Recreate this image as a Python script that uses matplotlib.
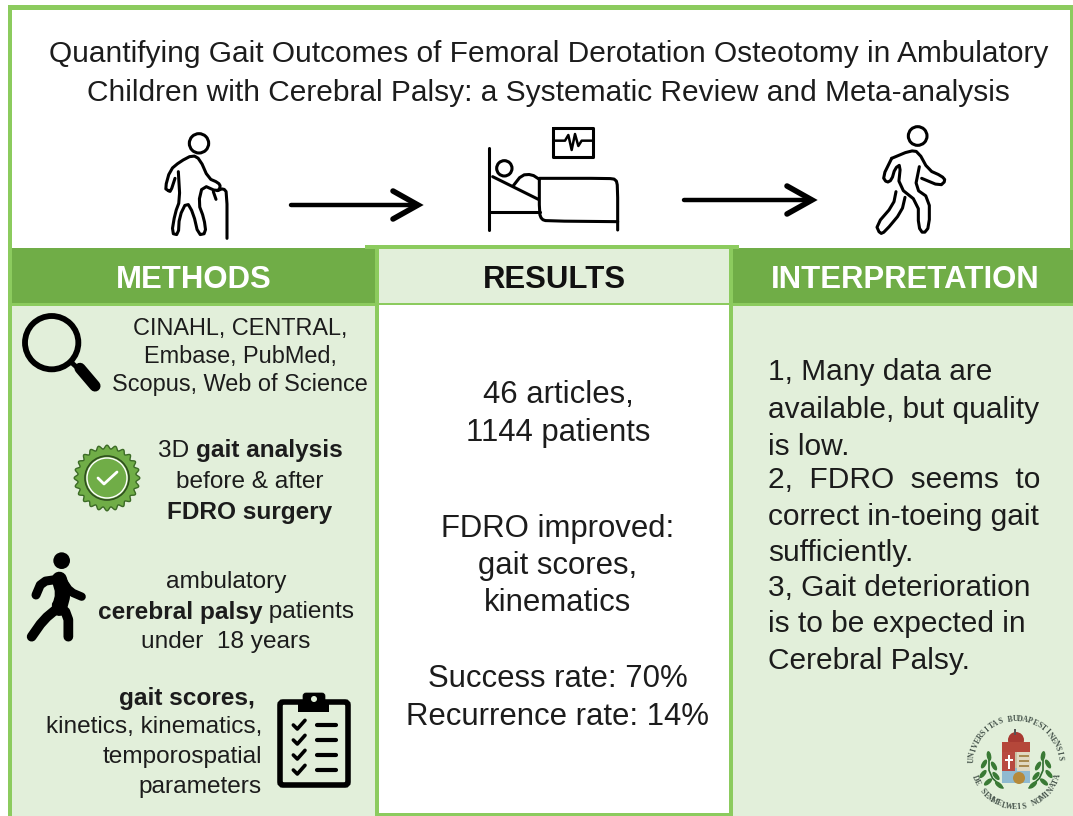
import numpy as np
import matplotlib
matplotlib.use("Agg")
import matplotlib.pyplot as plt
from matplotlib.patches import Rectangle, Circle, FancyBboxPatch, Polygon, Wedge, Ellipse

plt.rcParams['font.family'] = ['Liberation Sans', 'DejaVu Sans']

# text content
title_lines = ["Quantifying Gait Outcomes of Femoral Derotation Osteotomy in Ambulatory",
               "Children with Cerebral Palsy: a Systematic Review and Meta-analysis"]
headers = ["METHODS", "RESULTS", "INTERPRETATION"]
search_lines = ["CINAHL, CENTRAL,", "Embase, PubMed,", "Scopus, Web of Science"]
gait_lines = [[("3D ", False), ("gait analysis", True)],
              [("before & after", False)],
              [("FDRO surgery", True)]]
patient_lines = [[("ambulatory", False)],
                 [("cerebral palsy", True), (" patients", False)],
                 [("under  18 years", False)]]
outcome_lines = [("gait scores,", True), ("kinetics, kinematics,", False),
                 ("temporospatial", False), ("parameters", False)]
results_lines = ["46 articles,", "1144 patients", "FDRO improved:", "gait scores,",
                 "kinematics", "Success rate: 70%", "Recurrence rate: 14%"]
interp_lines = ["1, Many data are", "available, but quality", "is low.",
                "2,  FDRO  seems  to", "correct in-toeing gait", "sufficiently.",
                "3, Gait deterioration", "is to be expected in", "Cerebral Palsy."]

DARK = "#70AD47"
EDGE = "#8CCB5E"
PALE = "#E2EFDA"
INK = "#1c1c1c"

fig = plt.figure(figsize=(10.73, 8.16), dpi=100)
ax = fig.add_axes([0, 0, 1, 1])
ax.set_xlim(0, 1073)
ax.set_ylim(816, 0)
ax.axis("off")


def box(x0, y0, x1, y1, color, z=1):
    ax.add_patch(Rectangle((x0, y0), x1 - x0, y1 - y0, fc=color, ec="none", zorder=z))


def corner_cut(a, n=1):
    # rounds the corners, ends stay where they are
    for _ in range(n):
        q = a[:-1] * 0.75 + a[1:] * 0.25
        r = a[:-1] * 0.25 + a[1:] * 0.75
        mid = np.empty((2 * len(q), 2))
        mid[0::2] = q
        mid[1::2] = r
        a = np.vstack([a[0], mid, a[-1]])
    return a


def stroke(pts, off, lw=2.2, scale=3.0, color="black", z=5, smooth=True):
    a = np.array(pts, dtype=float) / scale + off
    if smooth:
        a = corner_cut(a)
    ax.plot(a[:, 0], a[:, 1], color=color, lw=lw, solid_capstyle="round",
            solid_joinstyle="round", zorder=z)


def ring(c, r, off, lw=2.2, fc="none", ec="black", scale=3.0, z=5):
    cx, cy = np.array(c, dtype=float) / scale + off
    ax.add_patch(Circle((cx, cy), r / scale, fc=fc, ec=ec, lw=lw, zorder=z))


# panels
box(10, 304, 376, 816, PALE)
box(732, 304, 1073, 816, PALE)
box(10, 248, 377, 304, DARK, 2)
box(378, 249, 731, 304, PALE, 2)
box(731, 248, 1073, 304, DARK, 2)

# frame lines
box(8, 5, 1073, 10, EDGE, 3)
box(8, 5, 12, 816, EDGE, 3)
box(1070, 5, 1073, 250, EDGE, 3)
box(365, 245, 739, 249, EDGE, 3)
box(375, 245, 379, 816, EDGE, 3)
box(729, 245, 733, 816, EDGE, 3)
box(378, 303, 731, 305, EDGE, 3)
box(10, 303, 376, 306, EDGE, 3)
box(733, 303, 1073, 306, EDGE, 3)
box(378, 813, 731, 816, EDGE, 3)

# title and headers
for line, y, xc in zip(title_lines, [54, 93], [549, 548]):
    ax.text(xc, y, line, fontsize=21.5, ha="center", va="center", color=INK)
for head, xc, col in zip(headers, [194, 554, 905], ["white", "#111111", "white"]):
    ax.text(xc, 280, head, fontsize=22.4, fontweight="bold", ha="center", va="center", color=col)

# methods text
for line, y in zip(search_lines, [329, 357, 385]):
    ax.text(240, y, line, fontsize=16.9, ha="center", va="center", color=INK)


def mixed(parts, xc, y, size=17.6):
    r = fig.canvas.get_renderer()
    ts = []
    w = 0
    for s, b in parts:
        t = ax.text(0, y, s.replace(" ", "\u00a0"), fontsize=size, va="center", ha="left",
                    fontweight="bold" if b else "normal", color=INK)
        w += t.get_window_extent(r).width
        ts.append(t)
    x = xc - w / 2
    for t in ts:
        t.set_x(x)
        x += t.get_window_extent(r).width


for parts, y in zip(gait_lines, [451, 482, 512]):
    mixed(parts, 250, y)
for parts, y in zip(patient_lines, [582, 612, 642]):
    mixed(parts, 226, y)
for (s, b), y, xr in zip(outcome_lines, [698, 727, 757, 787], [255, 262, 262, 262]):
    ax.text(xr, y, s, fontsize=17.6, ha="right", va="center", color=INK,
            fontweight="bold" if b else "normal")

# results and interpretation text
for line, y in zip(results_lines, [395, 433, 529, 566, 603, 679, 717]):
    ax.text(558, y, line, fontsize=22.4, ha="center", va="center", color=INK)
for line, y in zip(interp_lines, [372, 410, 447, 480, 517, 553, 588, 624, 661]):
    ax.text(768, y, line, fontsize=21.5, ha="left", va="center", color=INK)

# arrows
for x0, x1, yy in [(291, 418, 205), (684, 812, 200)]:
    ax.plot([x0, x1], [yy, yy], color="black", lw=3.2, solid_capstyle="round", zorder=5)
    ax.plot([x1 - 25, x1, x1 - 25], [yy - 14, yy, yy + 14], color="black", lw=4,
            solid_capstyle="round", solid_joinstyle="miter", zorder=5)

# old man with cane
off = np.array([130, 120])
ring((207, 70), 29, off)
stroke([(115, 212), (105, 205), (120, 150), (150, 125), (188, 105), (210, 118), (235, 175),
        (265, 188), (272, 200), (262, 215), (218, 195), (205, 250), (222, 295), (228, 340),
        (205, 345), (190, 280), (170, 245), (148, 290), (145, 345), (125, 340), (135, 280),
        (150, 240), (145, 155)], off)
stroke([(115, 212), (122, 215), (135, 175)], off)
stroke([(262, 212), (280, 205), (291, 218), (291, 355)], off)
stroke([(250, 215), (258, 238)], off)

# bed and monitor
stroke([(1078, 85), (1078, 330)], off, smooth=False)
ring((1123, 145), 23, off)
stroke([(1088, 170), (1225, 238)], off, smooth=False)
stroke([(1150, 197), (1175, 165), (1205, 163), (1228, 178)], off)
stroke([(1228, 178), (1228, 280), (1235, 298), (1250, 303), (1463, 305)], off)
stroke([(1228, 175), (1435, 175), (1458, 178), (1463, 200), (1463, 330)], off)
stroke([(1080, 275), (1230, 275)], off, smooth=False)
stroke([(1270, 25), (1390, 25), (1390, 110), (1270, 110), (1270, 25)], off, smooth=False)
stroke([(1270, 62), (1305, 62), (1315, 45), (1325, 90), (1335, 42), (1345, 78), (1355, 62),
        (1390, 62)], off, lw=1.8, smooth=False)

# walking man
off = np.array([850, 110])
ring((203, 78), 28, off)
stroke([(125, 145), (180, 122), (205, 125), (235, 180), (275, 198), (287, 212), (270, 228),
        (215, 205)], off)
stroke([(125, 145), (98, 200), (110, 218), (125, 210), (135, 175), (152, 163), (145, 230),
        (205, 278), (205, 350), (220, 372), (238, 350), (238, 265), (195, 235), (208, 170)], off)
stroke([(138, 245), (130, 285), (78, 345), (90, 372), (105, 365), (155, 305), (165, 262)], off)

# magnifier
off = np.array([0, 300])
ring((155, 128), 80, off, lw=4.2)
stroke([(215, 188), (245, 215)], off, lw=3.5, smooth=False)
stroke([(240, 205), (285, 258)], off, lw=8, smooth=False)

# seal
theta = np.linspace(0, 2 * np.pi, 361)
rad = 31 + 1.8 * np.cos(24 * theta)
seal = np.column_stack([107 + rad * np.cos(theta), 478 + rad * np.sin(theta)])
ax.add_patch(Polygon(seal, closed=True, fc=DARK, ec="#3c6b26", lw=1, zorder=5))
ax.add_patch(Circle((107, 478), 22, fc="none", ec="#2f4f1e", lw=1.2, zorder=6))
ax.add_patch(Circle((107, 478), 20, fc="none", ec="white", lw=1, zorder=6))
stroke([(98, 478), (104, 484), (117, 472)], [0, 0], lw=2, scale=1, color="white", z=7, smooth=False)

# runner
off = np.array([0, 540])
ring((185, 62), 25, off, lw=0, fc="black")
stroke([(178, 118), (190, 160), (178, 205)], off, lw=11)
stroke([(172, 118), (125, 125), (108, 165)], off, lw=6.5)
stroke([(190, 125), (210, 155), (245, 170)], off, lw=6)
stroke([(172, 205), (130, 240), (95, 290)], off, lw=7)
stroke([(170, 195), (205, 222), (205, 290)], off, lw=7)

# clipboard
ax.add_patch(FancyBboxPatch((280, 702), 68, 83, boxstyle="round,pad=0,rounding_size=3",
                            fc="none", ec="black", lw=4, zorder=5))
box(298, 702, 329, 712, "black", 6)
ax.add_patch(FancyBboxPatch((303, 693), 22, 12, boxstyle="round,pad=0,rounding_size=3",
                            fc="black", ec="black", lw=0.5, zorder=6))
ax.add_patch(Circle((314, 699), 3, fc=PALE, ec="none", zorder=7))
for yz in [555, 600, 645, 690]:
    stroke([(880, yz), (892, yz + 12), (915, yz - 14)], off, lw=2.6, smooth=False)
    stroke([(952, yz), (1008, yz)], off, lw=3, smooth=False)

# university logo
cx, cy = 1016, 763


def arc_text(s, a0, a1, r, flip=False):
    for ch, a in zip(s, np.linspace(a0, a1, len(s))):
        x = cx + r * np.cos(np.radians(a))
        y = cy - r * np.sin(np.radians(a))
        rot = a + 90 if flip else a - 90
        ax.text(x, y, ch, fontsize=5.5, fontweight="bold", family="Liberation Serif",
                rotation=rot, rotation_mode="anchor",
                ha="center", va="center", color="#44524a", zorder=4)


arc_text("UNIVERSITAS BUDAPESTINENSIS", 176, 6, 44)
arc_text("DE SEMMELWEIS NOMINATA", 200, 342, 44, flip=True)
# shield
box(1002, 750, 1030, 783, "#C9C2A4", 4)
ax.add_patch(Wedge((1016, 782), 14, 180, 360, fc="#8FBAD0", ec="none", zorder=4))
box(1002, 742, 1030, 752, "#B5473A", 5)
ax.add_patch(Circle((1016, 740), 8, fc="#A83A32", ec="none", zorder=4))
box(1014, 729, 1016, 735, "#555555", 4)
box(1002, 752, 1015, 771, "#B84A40", 5)
box(1017, 752, 1030, 771, "#E0D8C0", 5)
box(1002, 771, 1030, 783, "#8FBAD0", 5)
ax.add_patch(Circle((1019, 778), 6, fc="#B58A3A", ec="none", zorder=6))
for i in range(3):
    box(1019, 755 + i * 5, 1029, 757 + i * 5, "#A88A50", 6)
box(1008, 755, 1010, 769, "white", 6)
box(1005, 759, 1013, 761, "white", 6)
# laurel
for side in [-1, 1]:
    stroke([(cx + side * 27, 756), (cx + side * 27, 775), (cx + side * 13, 788)], [0, 0], lw=1.2,
           scale=1, color="#2F6B2F", z=4)
    for dx, dy, ang in [(27, 756, 80), (32, 764, 120), (22, 766, 60), (33, 774, 130),
                        (20, 776, 50), (28, 782, 140), (17, 785, 40)]:
        ax.add_patch(Ellipse((cx + side * dx, dy), 10, 4.5, angle=side * ang * -1 + 0,
                             fc="#3A7A35", ec="none", zorder=4))

fig.savefig("out.png", dpi=100)
